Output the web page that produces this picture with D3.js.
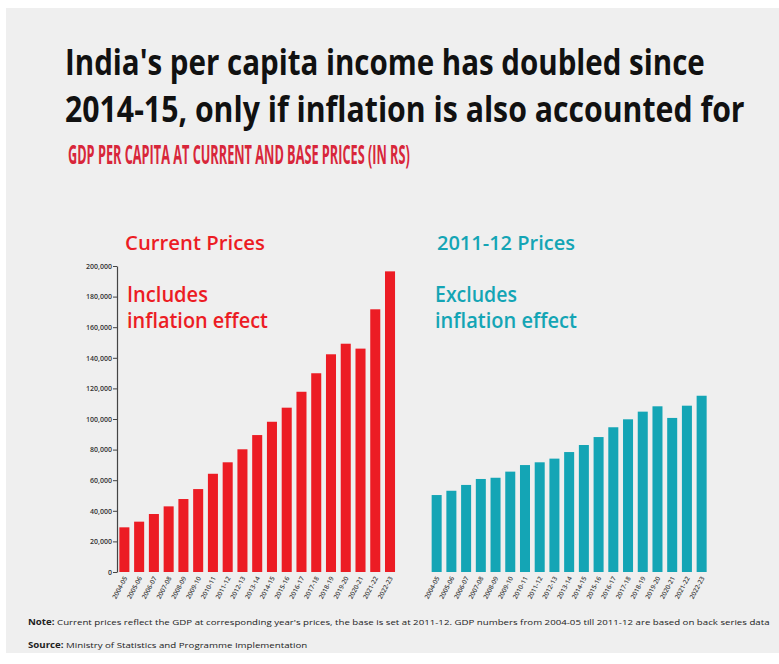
<!DOCTYPE html>
<html>
<head>
<meta charset="utf-8">
<script src="https://cdn.jsdelivr.net/npm/d3@7"></script>
<style>
  html, body { margin: 0; padding: 0; background: #ffffff; }
  svg { display: block; }
</style>
</head>
<body>
<svg id="chart" width="779" height="664"></svg>
<script>
// ---- data ----
const years = ["2004-05","2005-06","2006-07","2007-08","2008-09","2009-10","2010-11","2011-12","2012-13","2013-14","2014-15","2015-16","2016-17","2017-18","2018-19","2019-20","2020-21","2021-22","2022-23"];
const currentPrices = [29200, 32900, 37900, 42900, 47700, 54200, 64200, 71700, 80200, 89500, 98200, 107400, 117800, 129900, 142300, 149200, 146000, 171700, 196500];
const basePrices = [50300, 53100, 56900, 60800, 61600, 65600, 69900, 71700, 74100, 78400, 83000, 88200, 94600, 99800, 104800, 108300, 100700, 108700, 115200];
const yTicks = [0, 20000, 40000, 60000, 80000, 100000, 120000, 140000, 160000, 180000, 200000];

const titleLines = ["India's per capita income has doubled since", "2014-15, only if inflation is also accounted for"];
const subtitle = "GDP PER CAPITA AT CURRENT AND BASE PRICES (IN RS)";
const panelTitles = ["Current Prices", "2011-12 Prices"];
const panelNotes = [["Includes", "inflation effect"], ["Excludes", "inflation effect"]];
const noteText = "Current prices reflect the GDP at corresponding year's prices, the base is set at 2011-12. GDP numbers from 2004-05 till 2011-12 are based on back series data";
const sourceText = "Ministry of Statistics and Programme Implementation";

// ---- drawing ----
const svg = d3.select("#chart");
const RED = "#ec1c24", TEAL = "#14a5b5";
const headFont = "'Open Sans', 'Noto Sans', sans-serif";
const bodyFont = "'Open Sans', 'Noto Sans', sans-serif";

// place a text at (x, y) and squeeze it horizontally to a target width
function fitText(sel, x, y, width) {
  sel.each(function () {
    const w = this.getComputedTextLength();
    const s = width / w;
    d3.select(this).attr("transform", `translate(${x},${y}) scale(${s},1)`);
  });
}

svg.append("rect").attr("x", 6).attr("y", 8).attr("width", 773).attr("height", 645).attr("fill", "#efefef");

// title
titleLines.forEach((t, i) => {
  const tx = svg.append("text")
    .attr("font-family", headFont).attr("font-weight", 700).attr("font-size", 35)
    .attr("fill", "#111").text(t);
  fitText(tx, 65, 75 + i * 47, i === 0 ? 640 : 680);
});

const sub = svg.append("text")
  .attr("font-family", headFont).attr("font-weight", 700).attr("font-size", 27)
  .attr("fill", "#d8263a").text(subtitle);
fitText(sub, 68, 164, 342);

const y = d3.scaleLinear().domain([0, 200000]).range([572, 266]);

const panels = [
  { data: currentPrices, color: RED, range: [117, 397.4], titleX: 125, titleW: 140, noteX: 127, noteW: [81, 141] },
  { data: basePrices, color: TEAL, range: [429.3, 709], titleX: 437, titleW: 138, noteX: 435, noteW: [82, 142] }
];

panels.forEach((p, pi) => {
  const x = d3.scaleBand().domain(years).range(p.range).paddingInner(0.32).paddingOuter(0.16);
  const g = svg.append("g");

  g.selectAll("rect.bar").data(p.data).join("rect")
    .attr("class", "bar")
    .attr("x", (d, i) => x(years[i]))
    .attr("width", x.bandwidth())
    .attr("y", d => y(d))
    .attr("height", d => y(0) - y(d))
    .attr("fill", p.color);

  // x labels
  g.selectAll("text.xl").data(years).join("text")
    .attr("class", "xl")
    .attr("transform", d => `translate(${x(d) + x.bandwidth() / 2 + 3},${578}) rotate(-62)`)
    .attr("text-anchor", "end")
    .attr("font-family", bodyFont).attr("font-size", 6.5).attr("font-weight", 600)
    .attr("fill", "#444")
    .text(d => d);

  // panel title
  const pt = g.append("text")
    .attr("font-family", bodyFont).attr("font-weight", 600).attr("font-size", 20)
    .attr("fill", p.color).text(panelTitles[pi]);
  fitText(pt, p.titleX, 250, p.titleW);

  panelNotes[pi].forEach((t, i) => {
    const nt = g.append("text")
      .attr("font-family", bodyFont).attr("font-weight", 600).attr("font-size", 21)
      .attr("fill", p.color).text(t);
    fitText(nt, p.noteX, 302 + i * 26, p.noteW[i]);
  });
});

// left y axis
const yAxis = svg.append("g").attr("transform", "translate(117,0)")
  .call(d3.axisLeft(y).tickValues(yTicks).tickSize(4).tickSizeOuter(0).tickFormat(d3.format(",")));
yAxis.select(".domain").attr("stroke", "#444").attr("stroke-width", 1.2);
yAxis.selectAll(".tick line").attr("stroke", "#444");
yAxis.selectAll(".tick text").attr("font-family", bodyFont).attr("font-size", 7).attr("font-weight", 600).attr("fill", "#333").attr("x", -5);

// footer
const note = svg.append("text")
  .attr("font-family", bodyFont).attr("font-size", 8).attr("fill", "#222");
note.append("tspan").attr("font-weight", 700).text("Note: ");
note.append("tspan").text(noteText);
fitText(note, 28, 625, 742);

const src = svg.append("text")
  .attr("font-family", bodyFont).attr("font-size", 8).attr("fill", "#222");
src.append("tspan").attr("font-weight", 700).text("Source: ");
src.append("tspan").text(sourceText);
fitText(src, 28, 648, 280);
</script>
</body>
</html>
